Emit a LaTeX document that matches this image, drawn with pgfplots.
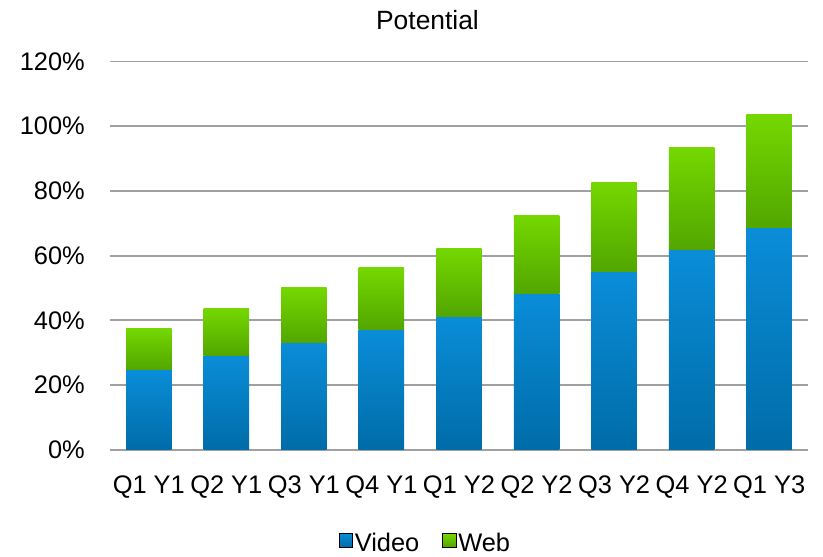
\documentclass[border=0pt]{standalone}
\usepackage{pgfplots}
\pgfplotsset{compat=1.18}
\usepackage{fontspec}
\setmainfont{Liberation Sans}
\definecolor{gridgray}{HTML}{A0A0A0}
\definecolor{blueTop}{HTML}{0A8DD8}
\definecolor{blueBot}{HTML}{006CA8}
\definecolor{greenTop}{HTML}{74D800}
\definecolor{greenBot}{HTML}{52A600}
% #1 left x, #2 right x, #3 lower value, #4 upper value, #5 colour prefix
\newcommand{\seg}[5]{\addplot[draw=none, top color=#5Top, bottom color=#5Bot, forget plot]
  coordinates {(#1,#3) (#2,#3) (#2,#4) (#1,#4)} -- cycle;}
\begin{document}
\begin{tikzpicture}
\useasboundingbox (-110bp,-107.3bp) rectangle (713bp,449.7bp);
\begin{axis}[
  at={(0,0)}, anchor=south west,
  scale only axis,
  width=698bp, height=388.2bp,
  xmin=-0.5, xmax=8.5,
  ymin=0, ymax=120,
  xtick={0,...,8},
  xticklabels={Q1 Y1,Q2 Y1,Q3 Y1,Q4 Y1,Q1 Y2,Q2 Y2,Q3 Y2,Q4 Y2,Q1 Y3},
  ytick={0,20,...,120},
  yticklabel={\pgfmathprintnumber{\tick}\%},
  /pgf/number format/assume math mode=true,
  major tick length=0pt,
  axis line style={draw=none},
  ymajorgrids,
  major grid style={line width=1.9bp, color=gridgray},
  every tick label/.append style={font=\fontsize{25.5}{30}\selectfont, inner sep=0pt},
  yticklabel style={anchor=east, xshift=-25bp},
  xticklabel style={anchor=base, yshift=-43.6bp},
  legend style={draw=none, fill=none, font=\fontsize{25.5}{30}\selectfont,
    at={(axis description cs:0.452,-0.24)}, anchor=center, inner sep=0pt,
    legend columns=2, /tikz/every even column/.append style={column sep=21bp}},
  legend cell align=left,
]
% Video: from 0 to video share
\seg{-0.2933}{0.2933}{0}{24.7}{blue}
\seg{0.7067}{1.2933}{0}{29.1}{blue}
\seg{1.7067}{2.2933}{0}{33.0}{blue}
\seg{2.7067}{3.2933}{0}{37.1}{blue}
\seg{3.7067}{4.2933}{0}{41.3}{blue}
\seg{4.7067}{5.2933}{0}{48.2}{blue}
\seg{5.7067}{6.2933}{0}{55.0}{blue}
\seg{6.7067}{7.2933}{0}{61.8}{blue}
\seg{7.7067}{8.2933}{0}{68.6}{blue}
% Web: stacked on video, up to total
\seg{-0.2933}{0.2933}{24.7}{37.6}{green}
\seg{0.7067}{1.2933}{29.1}{43.8}{green}
\seg{1.7067}{2.2933}{33.0}{50.0}{green}
\seg{2.7067}{3.2933}{37.1}{56.2}{green}
\seg{3.7067}{4.2933}{41.3}{62.3}{green}
\seg{4.7067}{5.2933}{48.2}{72.5}{green}
\seg{5.7067}{6.2933}{55.0}{82.7}{green}
\seg{6.7067}{7.2933}{61.8}{93.3}{green}
\seg{7.7067}{8.2933}{68.6}{103.5}{green}
\addlegendimage{legend image code/.code={\shade[top color=blueTop, bottom color=blueBot] (-3bp,-4.2bp) rectangle (10.5bp,9.2bp);}}
\addlegendentry{Video}
\addlegendimage{legend image code/.code={\shade[top color=greenTop, bottom color=greenBot] (-3bp,-4.2bp) rectangle (10.5bp,9.2bp);}}
\addlegendentry{Web}
\end{axis}
\node[anchor=base, font=\fontsize{26.5}{30}\selectfont] at (317.5bp,419.7bp) {Potential};
\end{tikzpicture}
\end{document}
